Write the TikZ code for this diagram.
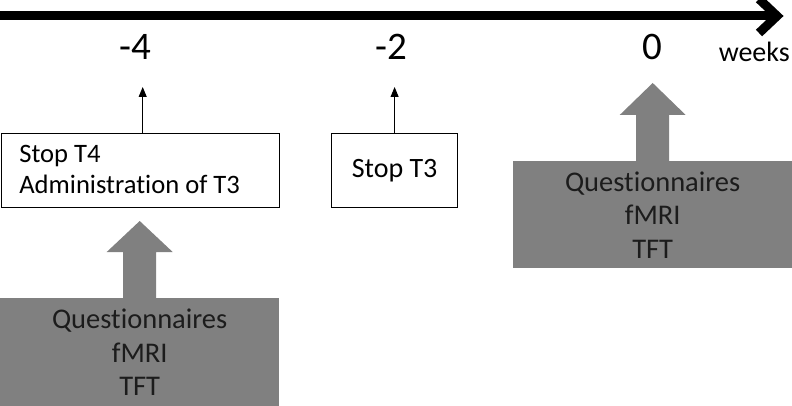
\documentclass[tikz,border=0pt]{standalone}
\usepackage{fontspec}
\setmainfont{Carlito}[Ligatures=NoCommon]
\usetikzlibrary{arrows.meta,calc}
\definecolor{boxgray}{RGB}{128,128,128}
\definecolor{txtdark}{RGB}{28,28,28}
\newcommand\mybigarrow[2]{%
  \fill[boxgray] ($(#1.north)+(-16.5,1)$) -- ($(#1.north)+(-16.5,-46)$) -- ($(#1.north)+(-33,-46)$)
    -- ($(#1.north)+(0,-#2)$) -- ($(#1.north)+(33,-46)$) -- ($(#1.north)+(16.5,-46)$)
    -- ($(#1.north)+(16.5,1)$) -- cycle;}
\begin{document}
\begin{tikzpicture}[x=1pt,y=-1pt,
  wbox/.style={draw, line width=1.2pt, fill=white, inner sep=0pt, font=\fontsize{28}{31}\selectfont},
  wtext/.style={inner sep=0pt, align=left, font=\fontsize{26.6}{31}\selectfont},
  gbox/.style={fill=boxgray, inner sep=0pt, align=center, text=txtdark,
    font=\fontsize{28.5}{33.5}\selectfont, minimum width=279pt, text width=279pt},
  num/.style={font=\fontsize{39}{39}\selectfont, inner sep=0pt},
  tick/.style={line width=1pt, -{Triangle[length=10pt,width=8pt]}}]
\useasboundingbox (0,0) rectangle (792,406);
% timeline
\coordinate (tl0) at (0,16);
\coordinate (tl1) at (777,16);
\coordinate (ch0) at (759,-1);
\coordinate (ch1) at (759,33);
\draw[line width=9pt] (tl0) -- (tl1);
\draw[line width=9pt, miter limit=10] (ch0) -- (tl1) -- (ch1);
% labels
\node[num, anchor=base] (m4) at (135,60) {-4};
\node[num, anchor=base] (m2) at (391,60) {-2};
\node[num, anchor=base] (z0) at (652,60) {0};
\node[font=\fontsize{28}{28}\selectfont, inner sep=0pt, anchor=base east] (wk) at (790,62) {weeks};
% white boxes
\node[wbox, anchor=north west, minimum width=278pt, minimum height=74pt] (b1) at (0.6,133) {};
\node[wtext, anchor=west] (b1t) at ($(b1.west)+(18.5,-1)$) {Stop T4\\Administration of T3};
\node[wbox, anchor=north west, minimum width=126pt, minimum height=74pt] (b2) at (331,133) {Stop T3};
\coordinate (t1) at ($(b1.north)+(2.5,-46)$);
\coordinate (t2) at ($(b2.north)+(0,-46)$);
\draw[tick] ($(b1.north)+(2.5,0)$) -- (t1);
\draw[tick] (b2.north) -- (t2);
% gray boxes
\node[gbox, anchor=north west, minimum height=108pt] (g1) at (0,298) {Questionnaires\\fMRI\\TFT};
\node[gbox, anchor=north west, minimum height=107pt] (g2) at (513,161) {Questionnaires\\fMRI\\TFT};
\mybigarrow{g1}{77}
\mybigarrow{g2}{78}
\end{tikzpicture}
\end{document}
